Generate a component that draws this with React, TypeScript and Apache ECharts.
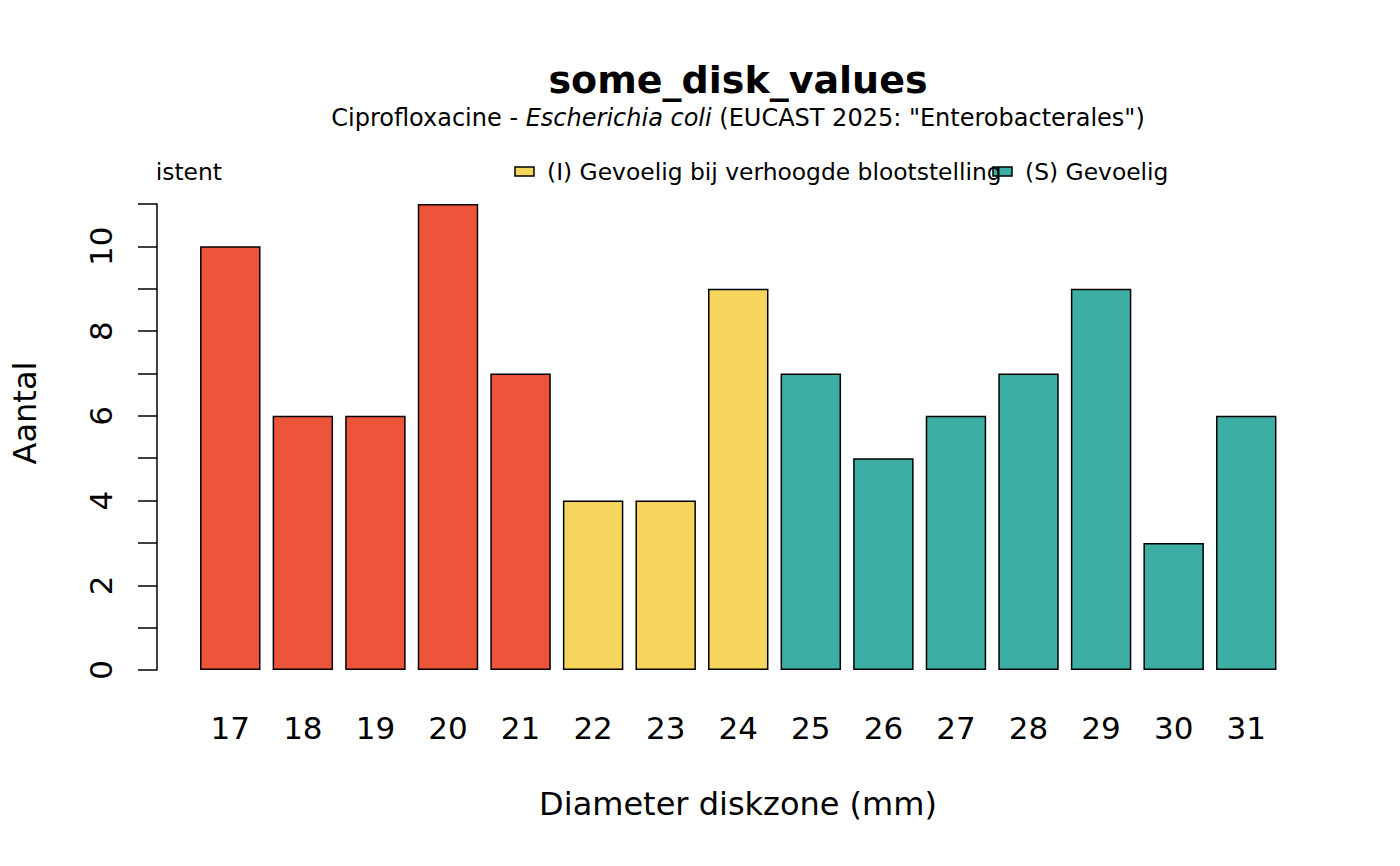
import React, { useEffect, useRef } from "react";
import * as echarts from "echarts";

const categories = ["17", "18", "19", "20", "21", "22", "23", "24", "25", "26", "27", "28", "29", "30", "31"];
const counts = [10, 6, 6, 11, 7, 4, 4, 9, 7, 5, 6, 7, 9, 3, 6];
const interpretations = ["R", "R", "R", "R", "R", "I", "I", "I", "S", "S", "S", "S", "S", "S", "S"];
const legendLabels = ["(R) Resistent", "(I) Gevoelig bij verhoogde blootstelling", "(S) Gevoelig"];
const legendKeys = ["R", "I", "S"];
const colors: Record<string, string> = { R: "#ED553B", I: "#F6D55C", S: "#3CAEA3" };
const yTicks = [0, 1, 2, 3, 4, 5, 6, 7, 8, 9, 10, 11];

const FONT = "DejaVu Sans";

export default function App() {
  const ref = useRef<HTMLDivElement>(null);
  useEffect(() => {
    if (!ref.current) return;
    const chart = echarts.init(ref.current, null, { renderer: "svg" });
    const legendX = [40, 515, 993];
    const legendGraphics: any[] = [];
    legendKeys.forEach((k, i) => {
      legendGraphics.push({
        type: "rect",
        shape: { x: legendX[i], y: 167, width: 19, height: 9 },
        style: { fill: colors[k], stroke: "#000", lineWidth: 1.5 },
        z: 10,
      });
      legendGraphics.push({
        type: "text",
        x: legendX[i] + 32,
        y: 172,
        style: { text: legendLabels[i], font: `23.4px '${FONT}'`, fill: "#000", textVerticalAlign: "middle" },
        z: 11,
      });
    });
    chart.setOption({
      animation: false,
      backgroundColor: "#fff",
      grid: { left: 194, right: 117.5, top: 204, bottom: 196, containLabel: false },
      xAxis: {
        type: "category",
        data: categories,
        axisLine: { show: false },
        axisTick: { show: false },
        axisLabel: { fontFamily: FONT, fontSize: 31, color: "#000", margin: 42 },
      },
      yAxis: {
        type: "value",
        min: 0,
        max: yTicks[yTicks.length - 1],
        interval: 1,
        offset: 37,
        splitLine: { show: false },
        axisLine: { show: true, lineStyle: { color: "#000", width: 1.5 } },
        axisTick: { show: true, length: 19, lineStyle: { color: "#000", width: 1.5 } },
        axisLabel: {
          fontFamily: FONT,
          fontSize: 31,
          color: "#000",
          rotate: 90,
          margin: 41,
          formatter: (v: number) => (v % 2 === 0 && v <= 10 ? String(v) : ""),
        },
      },
      series: [
        {
          type: "bar",
          barCategoryGap: "16.7%",
          data: counts.map((v, i) => ({
            value: v,
            itemStyle: { color: colors[interpretations[i]], borderColor: "#000", borderWidth: 1.5 },
          })),
        },
      ],
      graphic: [
        ...legendGraphics,
        {
          type: "rect",
          shape: { x: 0, y: 150, width: 157.5, height: 45 },
          style: { fill: "#fff" },
          z: 20,
        },
        {
          type: "text",
          x: 738,
          y: 80,
          style: { text: "some_disk_values", font: `bold 38px '${FONT}'`, fill: "#000", textAlign: "center", textVerticalAlign: "middle" },
        },
        {
          type: "text",
          x: 738,
          y: 118,
          style: {
            text: "Ciprofloxacine - {i|Escherichia coli} (EUCAST 2025: \"Enterobacterales\")",
            font: `24px '${FONT}'`,
            fill: "#000",
            textAlign: "center",
            textVerticalAlign: "middle",
            rich: { i: { fontStyle: "italic", fontFamily: FONT, fontSize: 24 } },
          },
        },
        {
          type: "text",
          x: 738,
          y: 804,
          style: { text: "Diameter diskzone (mm)", font: `32px '${FONT}'`, fill: "#000", textAlign: "center", textVerticalAlign: "middle" },
        },
        {
          type: "text",
          x: 25,
          y: 413,
          rotation: Math.PI / 2,
          style: { text: "Aantal", font: `32px '${FONT}'`, fill: "#000", textAlign: "center", textVerticalAlign: "middle" },
        },
      ],
    });
    return () => chart.dispose();
  }, []);
  return <div ref={ref} style={{ width: 1400, height: 866, position: "absolute", left: 0, top: 0 }} />;
}
